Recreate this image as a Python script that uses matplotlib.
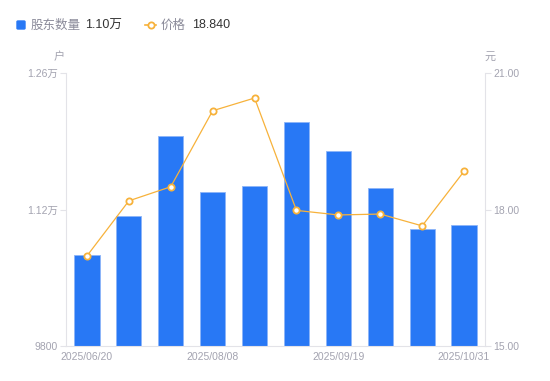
import matplotlib
matplotlib.use("Agg")
import matplotlib.pyplot as plt
from matplotlib.lines import Line2D
from matplotlib.patches import FancyBboxPatch

plt.rcParams['font.family'] = ['Liberation Sans', 'Noto Sans CJK SC', 'DejaVu Sans']

dates = ["2025/06/20", "2025/07/04", "2025/07/18", "2025/08/08", "2025/08/22",
         "2025/09/05", "2025/09/19", "2025/09/30", "2025/10/17", "2025/10/31"]
holders = [10733, 11130, 11957, 11376, 11441, 12094, 11797, 11420, 10997, 11038]
prices = [16.98, 18.19, 18.50, 20.17, 20.45, 17.98, 17.88, 17.90, 17.64, 18.84]
left_ticks = [9800, 11200, 12600]
left_labels = ["9800", "1.12万", "1.26万"]
right_ticks = [15.0, 18.0, 21.0]
shown_dates = ["2025/06/20", "2025/08/08", "2025/09/19", "2025/10/31"]

BLUE = "#2878F5"
ORANGE = "#F7B23B"
GREY = "#A3A3B0"
AX = "#E3E3E8"

fig = plt.figure(figsize=(5.5, 3.81), dpi=100)
ax = fig.add_axes([66/550, 35/381, 419/550, 273/381])
ax2 = ax.twinx()

x = list(range(len(dates)))
ax.bar(x, holders, width=0.6, color=BLUE, edgecolor="#8DB4F8", linewidth=0.6, zorder=2)
ax.set_ylim(9800, 12600)
ax.set_xlim(-0.5, len(dates) - 0.5)

ax2.plot(x, prices, color=ORANGE, linewidth=0.9, marker="o", markersize=4.5,
         markerfacecolor="white", markeredgecolor=ORANGE, markeredgewidth=1.3, zorder=3)
ax2.set_ylim(15, 21)

for a in (ax, ax2):
    for s in a.spines.values():
        s.set_visible(False)
ax.spines['left'].set_visible(True)
ax.spines['left'].set_color(AX)
ax.spines['bottom'].set_visible(True)
ax.spines['bottom'].set_color(AX)
ax2.spines['right'].set_visible(True)
ax2.spines['right'].set_color(AX)

ax.set_yticks(left_ticks)
ax.set_yticklabels(left_labels)
ax.tick_params(axis='y', colors=AX, labelcolor=GREY, labelsize=7.5, length=4, width=0.8, pad=2)
ax2.set_yticks(right_ticks)
ax2.set_yticklabels([f"{v:.2f}" for v in right_ticks])
ax2.tick_params(axis='y', colors=AX, labelcolor=GREY, labelsize=7.5, length=4, width=0.8, pad=2)

ax.set_xticks([dates.index(d) for d in shown_dates])
ax.set_xticklabels(shown_dates)
ax.tick_params(axis='x', length=0, labelcolor=GREY, labelsize=7.5, pad=4)

fig.text(59/550, 1 - 57/381, "户", color=GREY, fontsize=8, ha='center', va='center')
fig.text(490/550, 1 - 57/381, "元", color=GREY, fontsize=8, ha='center', va='center')

# legend
base = 1 - 28.5/381
sq = FancyBboxPatch((17/550, 1 - 29/381), 8/550, 8/381, boxstyle="round,pad=0,rounding_size=0.002",
                    transform=fig.transFigure, color=BLUE)
fig.patches.append(sq)
fig.text(31/550, base, "股东数量", color="#8A8A99", fontsize=9, va='baseline')
fig.text(85/550, base, "1.10万", color="#333333", fontsize=9, va='baseline')
fig.lines.append(Line2D([145/550, 156/550], [1 - 24.5/381] * 2, transform=fig.transFigure,
                        color=ORANGE, linewidth=1.2))
fig.lines.append(Line2D([150.5/550], [1 - 24.5/381], transform=fig.transFigure,
                        color=ORANGE, marker="o", markersize=4.5, markerfacecolor="white",
                        markeredgecolor=ORANGE, markeredgewidth=1.3, linestyle='none'))
fig.text(161/550, base, "价格", color="#8A8A99", fontsize=9, va='baseline')
fig.text(192/550, base, "18.840", color="#333333", fontsize=9, va='baseline')

fig.savefig("out.png", dpi=100, facecolor="white")
